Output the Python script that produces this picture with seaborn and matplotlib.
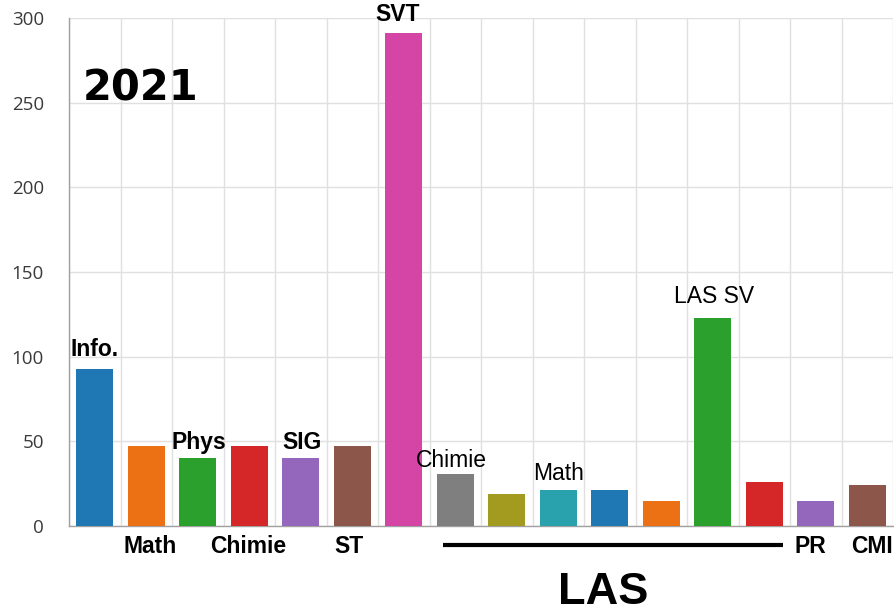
import matplotlib
matplotlib.use("Agg")
import matplotlib.pyplot as plt
import numpy as np
import pandas as pd
import seaborn as sns

# ---------------- DATA ----------------
filieres = ["Info.", "Math", "Phys", "Chimie", "SIG", "ST", "SVT",
            "LAS Chimie", "LAS 2", "LAS Math", "LAS 4", "LAS 5", "LAS SV",
            "LAS 7", "PR", "CMI"]
effectifs = [93, 47, 40, 47, 40, 47, 291, 31, 19, 21, 21, 15, 123, 26, 15, 24]
couleurs = ["#1f77b4", "#ec7014", "#2ca02c", "#d62728", "#9467bd", "#8c564b",
            "#d445a5", "#7f7f7f", "#a39a20", "#2aa2ae", "#1f77b4", "#ec7014",
            "#2ca02c", "#d62728", "#9467bd", "#8c564b"]
y_ticks = [0, 50, 100, 150, 200, 250, 300]

df = pd.DataFrame({"filiere": filieres, "effectif": effectifs})

sns.set_style("white")
plt.rcParams["font.family"] = ["Liberation Sans", "DejaVu Sans"]
plt.rcParams["text.color"] = "black"

GRID = "#e0e0e0"
AXIS = "#a0a0a0"

fig = plt.figure(figsize=(8.94, 6.13), dpi=100)
ax = fig.add_axes([69 / 894, 87 / 613, 824 / 894, 508 / 613])

sns.barplot(data=df, x="filiere", y="effectif", hue="filiere",
            palette=couleurs, saturation=1, width=0.72, linewidth=0,
            legend=False, ax=ax, zorder=3)

ax.set_xlim(-0.5, len(filieres) - 0.5)
ax.set_ylim(0, 300)
ax.set_xlabel("")
ax.set_ylabel("")

# grid between bars
ax.set_xticks(np.arange(-0.5, len(filieres), 1))
ax.set_xticklabels([])
ax.set_yticks(y_ticks)
ax.set_yticklabels([str(v) for v in y_ticks], family="Open Sans",
                   fontsize=13.5, color="#3a3a3a")
ax.grid(True, color=GRID, linewidth=1, zorder=0)
ax.tick_params(axis="x", length=15, color=GRID, width=1)
ax.tick_params(axis="y", length=16, color=GRID, width=1, pad=2)
ax.get_xticklines()[0].set_color(AXIS)
for s in ["top", "right"]:
    ax.spines[s].set_visible(False)
for s in ["left", "bottom"]:
    ax.spines[s].set_color(AXIS)
    ax.spines[s].set_linewidth(1)

# ---------------- LABELS ----------------
fs = 16.5
above_bold = {0: (0.0, 100.5, "Info."), 2: (0.03, 45.5, "Phys"),
              4: (0.02, 45.5, "SIG"), 6: (-0.12, 298, "SVT")}
for i, (dx, y, txt) in above_bold.items():
    ax.text(i + dx, y, txt, ha="center", va="baseline", fontsize=fs,
            fontweight="bold", zorder=5)

above_norm = {7: (-0.08, 35, "Chimie"), 9: (0.0, 27.2, "Math"),
              12: (0.02, 131.8, "LAS SV")}
for i, (dx, y, txt) in above_norm.items():
    ax.text(i + dx, y, txt, ha="center", va="baseline", fontsize=fs,
            zorder=5)

below_bold = {1: (0.07, "Math"), 3: (-0.02, "Chimie"), 5: (-0.07, "ST"),
              14: (-0.1, "PR"), 15: (0.1, "CMI")}
for i, (dx, txt) in below_bold.items():
    ax.text(i + dx, -16, txt, ha="center", va="baseline", fontsize=fs,
            fontweight="bold", clip_on=False)

# LAS group
ax.plot([6.76, 13.36], [-11.2, -11.2], color="black", linewidth=3,
        clip_on=False, solid_capstyle="butt")
ax.text(9.87, -46, "LAS", ha="center", va="baseline", fontsize=32.5,
        fontweight="bold", clip_on=False)

ax.text(-0.23, 251, "2021", ha="left", va="baseline", fontsize=30,
        fontweight="bold", family="DejaVu Sans", zorder=5)

fig.savefig("out.png", dpi=100)
